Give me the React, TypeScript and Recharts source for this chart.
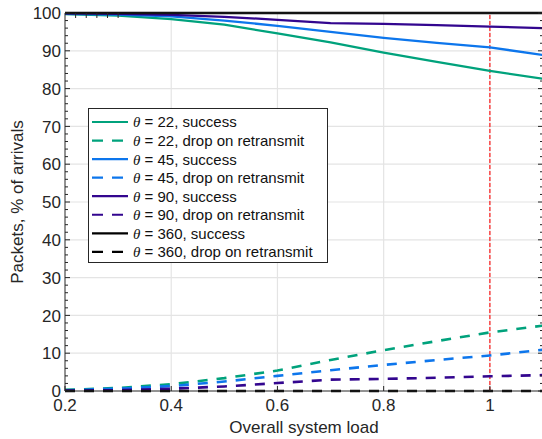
import React from 'react';
import { LineChart, Line, XAxis, YAxis, ReferenceLine, Legend } from 'recharts';

const loads = [0.2, 0.3, 0.4, 0.5, 0.6, 0.7, 0.8, 0.9, 1.0, 1.1];
const success22 = [99.7, 99.3, 98.4, 96.9, 94.6, 92.2, 89.5, 87.1, 84.7, 82.6];
const drop22 = [0.3, 0.8, 1.8, 3.4, 5.4, 8.2, 10.8, 13.2, 15.5, 17.3];
const success45 = [99.8, 99.6, 99.1, 98.0, 96.6, 95.0, 93.4, 92.1, 90.9, 88.9];
const drop45 = [0.2, 0.6, 1.3, 2.5, 4.0, 5.5, 6.9, 8.2, 9.4, 10.9];
const success90 = [99.9, 99.8, 99.5, 99.0, 98.2, 97.3, 97.1, 96.8, 96.4, 96.0];
const drop90 = [0.1, 0.2, 0.6, 1.2, 2.1, 3.0, 3.2, 3.5, 3.9, 4.2];
const success360 = [100, 100, 100, 100, 100, 100, 100, 100, 100, 100];
const drop360 = [0, 0, 0, 0, 0, 0, 0, 0, 0, 0];

const xTicks = [0.2, 0.4, 0.6, 0.8, 1.0];
const yMajor = [0, 10, 20, 30, 40, 50, 60, 70, 80, 90, 100];
const yTicksAll = [0, 2, 4, 6, 8, 10, 12, 14, 16, 18, 20, 22, 24, 26, 28, 30, 32, 34, 36, 38, 40, 42, 44, 46, 48, 50, 52, 54, 56, 58, 60, 62, 64, 66, 68, 70, 72, 74, 76, 78, 80, 82, 84, 86, 88, 90, 92, 94, 96, 98, 100];
const hGrid = [10, 20, 30, 40, 50, 60, 70, 80, 90];
const vGrid = [0.4, 0.6, 0.8, 1.0];
const markerLoad = 1.0;

const thetas = ['22', '45', '90', '360'];
const outcomes = ['success', 'drop on retransmit'];

const GREEN = '#00a27c';
const BLUE = '#0d76ec';
const PURPLE = '#33068f';
const BLACK = '#000000';
const INK = '#262626';
const FONT = '"Liberation Sans", Arial, Helvetica, sans-serif';

const series = [
  { key: 's22', values: success22, color: GREEN, dashed: false, theta: thetas[0], outcome: outcomes[0] },
  { key: 'd22', values: drop22, color: GREEN, dashed: true, theta: thetas[0], outcome: outcomes[1] },
  { key: 's45', values: success45, color: BLUE, dashed: false, theta: thetas[1], outcome: outcomes[0] },
  { key: 'd45', values: drop45, color: BLUE, dashed: true, theta: thetas[1], outcome: outcomes[1] },
  { key: 's90', values: success90, color: PURPLE, dashed: false, theta: thetas[2], outcome: outcomes[0] },
  { key: 'd90', values: drop90, color: PURPLE, dashed: true, theta: thetas[2], outcome: outcomes[1] },
  { key: 's360', values: success360, color: BLACK, dashed: false, theta: thetas[3], outcome: outcomes[0] },
  { key: 'd360', values: drop360, color: BLACK, dashed: true, theta: thetas[3], outcome: outcomes[1] },
];

const data = loads.map((load, i) => {
  const row: any = { load };
  series.forEach((s) => { row[s.key] = s.values[i]; });
  return row;
});

const LeftTick = (props: any) => {
  const { x, y, payload } = props;
  const v = payload.value;
  const major = v % 10 === 0;
  const ax = x + 4;
  return (
    <g>
      <line x1={ax} x2={ax + (major ? 5 : 3)} y1={y} y2={y} stroke={INK} strokeWidth={1} />
      {major && (
        <text x={x} y={y} dy="0.36em" textAnchor="end" fill={INK} fontSize={17} fontFamily={FONT}>{v}</text>
      )}
    </g>
  );
};

const RightTick = (props: any) => {
  const { x, y, payload } = props;
  const v = payload.value;
  const major = v % 10 === 0;
  return <line x1={x - (major ? 5 : 3)} x2={x} y1={y} y2={y} stroke={INK} strokeWidth={1} />;
};

const BottomTick = (props: any) => {
  const { x, y, payload } = props;
  const v = payload.value;
  const ay = y - 8;
  const label = v === 1 ? '1' : Number(v).toFixed(1);
  return (
    <g>
      <line x1={x} x2={x} y1={ay} y2={ay - 5} stroke={INK} strokeWidth={1} />
      <text x={x} y={y} dy="0.71em" textAnchor="middle" fill={INK} fontSize={17} fontFamily={FONT}>{label}</text>
    </g>
  );
};

const TopTick = (props: any) => {
  const { x, y } = props;
  return <line x1={x} x2={x} y1={y} y2={y + 5} stroke={INK} strokeWidth={1} />;
};

const LegendBox = () => (
  <svg width={241} height={156} style={{ display: 'block' }}>
    <rect x={0.5} y={0.5} width={239} height={154} fill="#ffffff" stroke={INK} strokeWidth={1} />
    {series.map((s, i) => {
      const cy = 14 + i * 18.55;
      return (
        <g key={s.key}>
          <line x1={4} x2={40} y1={cy} y2={cy} stroke={s.color} strokeWidth={2.2} strokeDasharray={s.dashed ? '11 9' : undefined} />
          <text x={45} y={cy} dy="0.36em" fontSize={15} fontFamily={FONT} fill="#111111">
            <tspan fontFamily='"Liberation Serif", "Times New Roman", serif' fontStyle="italic">θ</tspan>
            <tspan>{` = ${s.theta}, ${s.outcome}`}</tspan>
          </text>
        </g>
      );
    })}
  </svg>
);

export default function App() {
  return (
    <div style={{ position: 'absolute', left: 0, top: 0, width: 542, height: 439, overflow: 'hidden', background: '#ffffff' }}>
      <LineChart width={544} height={439} data={data} margin={{ top: 12, right: 0, left: 0, bottom: 0 }}>
        <XAxis
          xAxisId="bottom"
          dataKey="load"
          type="number"
          domain={[0.2, 1.1]}
          ticks={xTicks}
          interval={0}
          height={48}
          tickSize={0}
          tickMargin={8}
          tickLine={false}
          tick={<BottomTick />}
          axisLine={{ stroke: INK, strokeWidth: 1 }}
          label={{ value: 'Overall system load', position: 'insideBottom', offset: 6, fill: INK, fontSize: 17, fontFamily: FONT }}
        />
        <XAxis
          xAxisId="top"
          orientation="top"
          type="number"
          domain={[0.2, 1.1]}
          allowDataOverflow
          ticks={xTicks}
          interval={0}
          height={1}
          tickSize={0}
          tickMargin={0}
          tickLine={false}
          tick={<TopTick />}
          axisLine={{ stroke: INK, strokeWidth: 1 }}
        />
        <YAxis
          yAxisId="left"
          type="number"
          domain={[0, 100]}
          ticks={yTicksAll}
          interval={0}
          width={65}
          tickSize={0}
          tickMargin={4}
          tickLine={false}
          tick={<LeftTick />}
          axisLine={{ stroke: INK, strokeWidth: 1 }}
          label={{ value: 'Packets, % of arrivals', angle: -90, position: 'insideLeft', offset: 17, fill: INK, fontSize: 17, fontFamily: FONT, style: { textAnchor: 'middle' } }}
        />
        <YAxis
          yAxisId="right"
          orientation="right"
          type="number"
          domain={[0, 100]}
          allowDataOverflow
          ticks={yTicksAll}
          interval={0}
          width={1}
          tickSize={0}
          tickMargin={0}
          tickLine={false}
          tick={<RightTick />}
          axisLine={{ stroke: INK, strokeWidth: 1 }}
        />
        {hGrid.map((v) => (
          <ReferenceLine key={'h' + v} xAxisId="bottom" yAxisId="left" y={v} stroke="#e4e4e4" strokeWidth={1.2} />
        ))}
        {vGrid.map((v) => (
          <ReferenceLine key={'v' + v} xAxisId="bottom" yAxisId="left" x={v} stroke="#e4e4e4" strokeWidth={1.2} />
        ))}
        <ReferenceLine xAxisId="bottom" yAxisId="left" x={markerLoad} stroke="#ff1a1a" strokeWidth={1.2} strokeDasharray="4 2" />
        {series.map((s) => (
          <Line
            key={s.key}
            xAxisId="bottom"
            yAxisId="left"
            dataKey={s.key}
            type="linear"
            stroke={s.color}
            strokeWidth={s.dashed ? 2.6 : 2.3}
            strokeDasharray={s.dashed ? '10 9' : undefined}
            dot={false}
            activeDot={false}
            isAnimationActive={false}
          />
        ))}
        <Legend
          layout="vertical"
          align="center"
          verticalAlign="middle"
          wrapperStyle={{ position: 'absolute', left: 88, top: 108, width: 241, height: 156 }}
          content={() => <LegendBox />}
        />
      </LineChart>
    </div>
  );
}
